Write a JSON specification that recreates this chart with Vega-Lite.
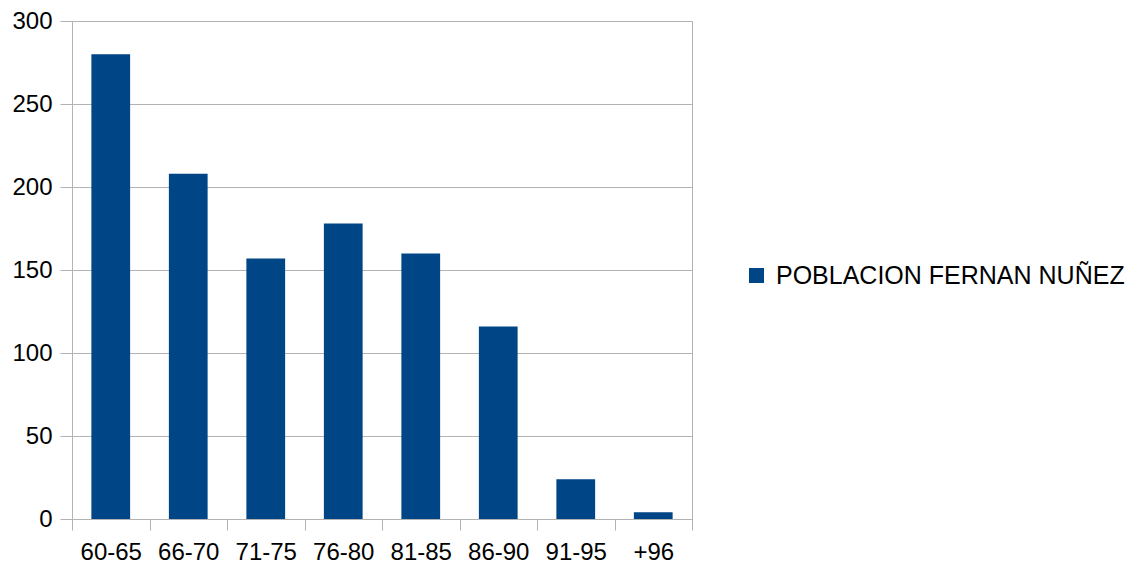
{
  "$schema": "https://vega.github.io/schema/vega-lite/v6.json",
  "width": 620,
  "height": 498,
  "autosize": "none",
  "padding": {"left": 72, "top": 21, "right": 447, "bottom": 47},
  "background": "white",
  "config": {
    "font": "Liberation Sans",
    "view": {"stroke": "#b3b3b3", "strokeWidth": 1}
  },
  "data": {
    "values": [
      {"edad": "60-65", "poblacion": 280, "serie": "POBLACION FERNAN NUÑEZ"},
      {"edad": "66-70", "poblacion": 208, "serie": "POBLACION FERNAN NUÑEZ"},
      {"edad": "71-75", "poblacion": 157, "serie": "POBLACION FERNAN NUÑEZ"},
      {"edad": "76-80", "poblacion": 178, "serie": "POBLACION FERNAN NUÑEZ"},
      {"edad": "81-85", "poblacion": 160, "serie": "POBLACION FERNAN NUÑEZ"},
      {"edad": "86-90", "poblacion": 116, "serie": "POBLACION FERNAN NUÑEZ"},
      {"edad": "91-95", "poblacion": 24, "serie": "POBLACION FERNAN NUÑEZ"},
      {"edad": "+96", "poblacion": 4, "serie": "POBLACION FERNAN NUÑEZ"}
    ]
  },
  "mark": {"type": "bar", "width": {"band": 0.5}},
  "encoding": {
    "x": {
      "field": "edad",
      "type": "nominal",
      "sort": null,
      "scale": {"paddingInner": 0, "paddingOuter": 0},
      "axis": {
        "title": null,
        "labelAngle": 0,
        "labelFontSize": 24,
        "labelColor": "#000000",
        "labelPadding": 10,
        "tickBand": "extent",
        "tickSize": 11,
        "tickColor": "#b3b3b3",
        "domainColor": "#b3b3b3",
        "grid": false
      }
    },
    "y": {
      "field": "poblacion",
      "type": "quantitative",
      "scale": {"domain": [0, 300], "nice": false},
      "axis": {
        "title": null,
        "values": [0, 50, 100, 150, 200, 250, 300],
        "labelFontSize": 24,
        "labelColor": "#000000",
        "labelPadding": 8,
        "tickSize": 12,
        "tickColor": "#b3b3b3",
        "domainColor": "#b3b3b3",
        "gridColor": "#b3b3b3",
        "grid": true
      }
    },
    "color": {
      "field": "serie",
      "type": "nominal",
      "scale": {"range": ["#004586"]},
      "legend": {
        "title": null,
        "orient": "none",
        "legendX": 672,
        "legendY": 242,
        "symbolType": "square",
        "symbolSize": 225,
        "symbolStrokeWidth": 0,
        "labelFontSize": 25,
        "labelColor": "#000000",
        "labelOffset": 7,
        "labelLimit": 450
      }
    }
  }
}
